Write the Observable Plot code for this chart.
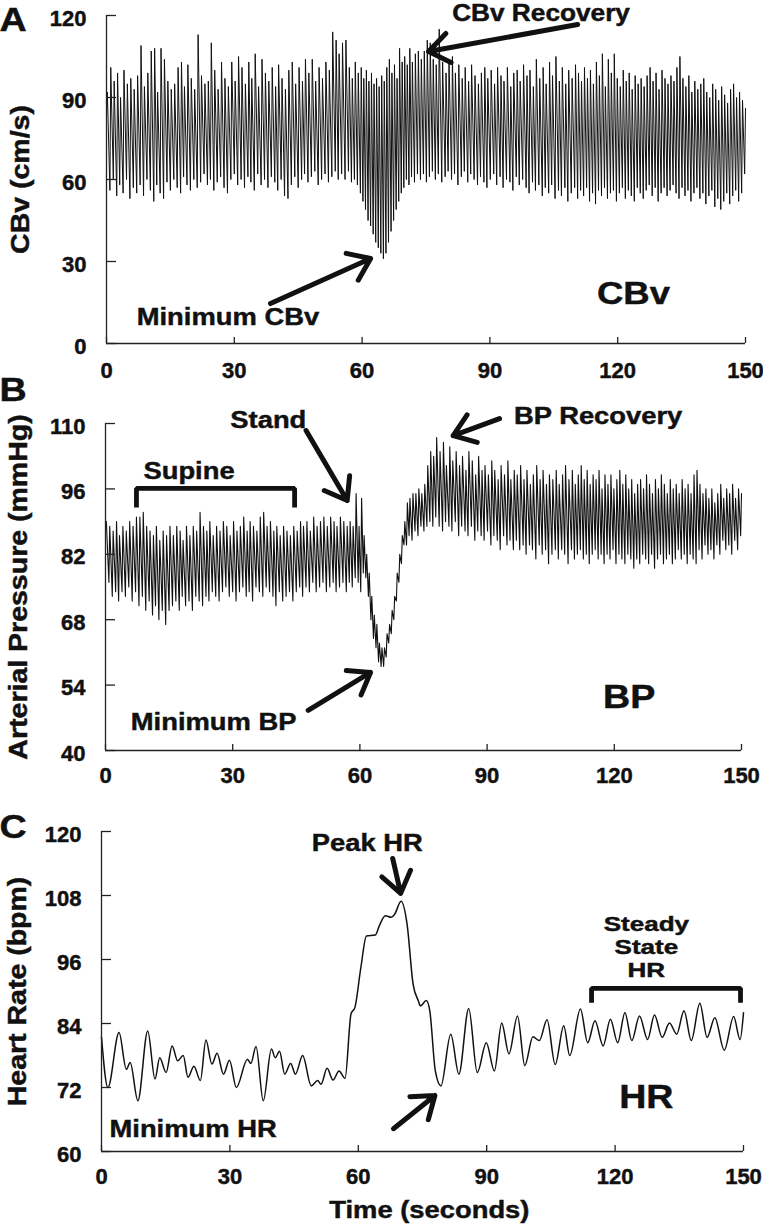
<!DOCTYPE html>
<html>
<head>
<meta charset="utf-8">
<script src="https://cdn.jsdelivr.net/npm/d3@7"></script>
<script src="https://cdn.jsdelivr.net/npm/@observablehq/plot@0.6"></script>
<style>
  body { margin: 0; background: #fff; }
  #root { position: relative; width: 763px; height: 1224px; overflow: hidden; }
  #root > div { position: absolute; left: 0; }
  #root svg { display: block; }
  #root text { stroke: #111; stroke-width: 0.45px; }
</style>
</head>
<body>
<div id="root"></div>
<script>
// ---------------- DATA ----------------
// time of each heartbeat (s)
const beatTime = [
  0.0,0.8,1.6,2.4,3.1,3.9,4.7,5.5,6.3,7.1,
  7.9,8.7,9.5,10.3,11.1,11.8,12.6,13.4,14.2,15.0,
  15.8,16.6,17.4,18.1,18.9,19.7,20.5,21.3,22.1,22.9,
  23.7,24.4,25.2,26.0,26.8,27.6,28.4,29.2,30.0,30.8,
  31.6,32.4,33.2,33.9,34.7,35.5,36.3,37.1,37.9,38.7,
  39.5,40.2,41.0,41.8,42.6,43.4,44.2,45.0,45.8,46.5,
  47.3,48.1,48.9,49.7,50.5,51.3,52.1,52.9,53.7,54.4,
  55.2,56.0,56.8,57.5,58.2,58.9,59.6,60.2,60.8,61.4,
  62.0,62.6,63.2,63.8,64.4,65.0,65.6,66.2,66.8,67.4,
  68.0,68.6,69.2,69.8,70.4,71.0,71.6,72.3,73.0,73.7,
  74.4,75.1,75.8,76.5,77.2,77.9,78.7,79.5,80.2,81.0,
  81.7,82.5,83.3,84.0,84.8,85.5,86.3,87.1,87.8,88.6,
  89.3,90.1,90.9,91.6,92.4,93.1,93.9,94.7,95.4,96.2,
  96.9,97.7,98.5,99.2,100.0,100.7,101.5,102.3,103.0,103.8,
  104.5,105.3,106.1,106.8,107.6,108.3,109.1,109.9,110.6,111.3,
  112.0,112.7,113.4,114.1,114.8,115.5,116.2,116.9,117.6,118.3,
  119.0,119.7,120.4,121.1,121.8,122.5,123.2,123.9,124.6,125.3,
  126.0,126.7,127.4,128.1,128.8,129.5,130.2,130.9,131.6,132.3,
  133.0,133.7,134.4,135.1,135.8,136.5,137.2,137.9,138.6,139.3,
  140.0,140.7,141.4,142.1,142.8,143.5,144.2,144.9,145.6,146.3,
  147.0,147.7,148.4,149.1,149.8
];
// cerebral blood velocity, cm/s: beat peaks and troughs
const cbvSystolic = [
  92,101,96,99,90,100,95,97,93,98,
  109,94,99,107,108,92,108,104,96,93,
  95,101,103,94,102,97,93,113,98,95,
  96,110,100,93,103,97,94,103,96,105,
  101,95,103,97,106,94,104,99,96,101,
  94,102,97,93,100,103,95,101,96,104,
  99,104,96,101,97,103,100,114,111,106,
  110,111,101,97,103,99,101,97,100,96,
  99,95,97,94,98,96,101,104,99,102,
  97,108,103,105,102,108,103,106,107,104,
  107,111,110,104,102,115,103,99,104,105,
  99,102,97,101,96,102,98,95,99,101,
  97,100,95,101,98,96,101,94,99,100,
  96,102,98,100,94,104,97,101,95,103,
  98,105,96,101,95,100,97,102,99,96,
  101,97,100,95,103,98,106,94,104,99,
  106,97,94,100,96,99,93,98,95,97,
  94,98,101,96,99,93,100,97,95,98,
  96,101,105,97,94,98,92,96,93,95,
  97,92,90,95,93,89,94,91,88,93,
  95,90,92,89,86
];
const cbvDiastolic = [
  83,56,60,54,58,55,60,53,57,55,
  58,54,60,56,52,58,55,53,59,56,
  60,57,55,61,58,56,60,57,59,62,
  58,60,56,59,61,57,55,60,62,58,
  60,57,61,59,56,62,58,60,57,61,
  59,56,60,54,53,58,61,57,60,62,
  59,61,63,58,60,62,59,61,63,60,
  62,60,63,59,60,58,55,52,49,45,
  43,40,37,35,33,31,33,37,41,45,
  49,52,55,57,60,58,61,59,62,60,
  62,59,61,63,60,62,59,61,63,60,
  62,58,61,63,59,62,60,58,61,59,
  57,60,62,58,61,57,60,59,56,61,
  58,60,57,55,59,56,58,54,57,55,
  58,53,56,54,57,52,55,57,53,56,
  54,57,52,55,51,56,54,57,53,55,
  56,52,55,57,53,56,54,52,57,55,
  53,56,58,54,57,52,55,57,54,56,
  58,55,53,57,54,56,52,55,57,53,
  55,51,54,56,50,53,49,52,55,51,
  54,56,52,55,62
];
// arterial pressure, mmHg: beat peaks and troughs
const bpSystolic = [
  89,88,87,89,86,88,87,89,88,90,
  90,91,88,87,86,88,85,87,86,88,
  86,88,87,85,88,86,88,87,91,88,
  87,89,86,88,87,89,88,86,89,87,
  88,90,87,89,88,87,90,91,88,89,
  87,88,86,88,87,86,88,87,89,88,
  89,87,90,88,89,90,88,90,89,88,
  90,89,88,89,88,95,88,94,86,82,
  78,73,69,67,63,62,62,65,67,70,
  73,78,82,86,89,93,94,95,95,96,
  95,97,101,104,103,107,104,106,101,105,
  102,104,101,103,100,104,102,99,103,100,
  101,99,102,100,98,101,99,102,98,100,
  99,101,98,100,97,99,101,98,100,97,
  99,98,100,97,99,101,98,100,97,99,
  101,98,100,97,99,98,100,96,99,97,
  99,96,98,100,97,99,96,98,95,97,
  98,96,99,97,95,98,96,99,97,95,
  98,96,97,95,98,96,97,95,99,100,
  97,95,96,94,96,93,95,97,94,96,
  95,97,94,96,95
];
const bpDiastolic = [
  89,76,73,74,72,74,73,75,72,74,
  71,73,70,72,69,71,68,70,67,70,
  71,72,70,73,71,72,70,73,72,71,
  73,72,74,73,72,74,75,73,74,72,
  74,75,73,74,72,75,74,73,75,74,
  73,71,74,72,73,74,72,74,75,73,
  75,74,76,74,75,76,74,75,76,74,
  75,76,74,76,75,77,76,74,78,77,
  73,68,64,62,59,58,58,60,63,65,
  68,72,76,80,84,84,86,85,87,86,
  88,87,88,89,88,90,88,87,89,88,
  87,89,86,88,87,86,88,85,87,86,
  85,87,84,86,85,83,86,84,85,83,
  85,83,84,82,84,83,81,84,82,83,
  80,82,83,81,83,82,80,83,81,82,
  83,81,82,80,82,83,81,82,80,82,
  81,83,80,82,81,80,82,81,79,81,
  80,82,81,80,82,79,81,82,80,81,
  82,80,81,83,81,82,80,82,81,80,
  83,81,84,82,83,81,84,82,85,83,
  84,82,85,83,86
];
// heart rate, bpm: turning points of the smooth trace
const hrTime = [
  0,1.5,4.1,5.8,6.7,8.5,10.8,12.5,13.6,15.1,
  16.5,17.8,19.1,20.2,21.6,23.1,24.4,25.8,27.0,28.5,
  29.9,31.5,34.1,34.9,36.1,37.8,39.7,40.6,41.6,42.8,
  44.2,45.3,47.0,49.0,50.5,51.3,52.7,54.1,55.5,56.9,
  58.3,59.2,60.6,61.9,64.0,64.9,66.3,67.7,68.5,70.0,
  71.4,72.8,74.0,74.5,75.9,76.7,78.0,79.3,81.6,83.5,
  85.8,87.8,89.9,91.8,93.5,95.2,97.2,98.9,100.8,102.3,
  104.1,106.0,108.0,109.4,111.9,113.6,115.3,117.2,118.9,120.6,
  122.3,123.9,125.7,127.6,129.2,131.0,132.7,134.4,136.1,137.8,
  139.8,141.5,143.3,145.5,147.7,149.2,150.0
];
const hrValue = [
  81.4,72,82.3,75.4,76.7,69.5,82.6,73.6,77.6,74.8,
  79.8,77,78,73.9,76,73.3,80.9,76.4,78.4,74.5,
  77.1,72,77.3,76.5,79.7,69.5,79.2,77.6,78.8,74.5,
  76.5,74.5,78,72.3,73.3,72.6,75.6,73.4,75.1,73.7,
  85.8,87,94.5,100.4,100.6,102.3,104.2,103.9,104.5,106.9,
  102.6,91.4,88.3,87.3,88.3,86.4,75.1,72.3,82,74.5,
  86.8,74.8,80.4,75.1,84.1,78.3,85.4,76.1,81.5,80.8,
  84.7,76.3,83.6,78,86.7,80.4,84.5,79.8,84.8,80.4,
  86,80.8,85.4,81,85.6,81.4,84.1,82,86.4,80.8,
  87.8,81.4,85.1,79,85.3,81,86
];
// tick labels
const timeTicks = [0, 30, 60, 90, 120, 150];
const cbvTicks = [0, 30, 60, 90, 120];
const bpTicks = [40, 54, 68, 82, 96, 110];
const hrTicks = [60, 72, 84, 96, 108, 120];

// ---------------- annotation layout (data space) ----------------
const notesA = [
  {text: "CBv Recovery", t: 102.0, v: 118.0, size: 23},
  {text: "Minimum CBv", t: 28.5, v: 6.6, size: 24},
  {text: "CBv", t: 123.7, v: 14.6, size: 32}
];
const arrowsA = [
  {t1: 110.6, v1: 116.7, t2: 75.6, v2: 106.8, inset: 0},
  {t1: 38.5, v1: 14.6, t2: 62.0, v2: 31.1, inset: 0}
];
const notesB = [
  {text: "Stand", t: 38.4, v: 109.1, size: 24},
  {text: "BP Recovery", t: 116.2, v: 110.0, size: 24},
  {text: "Supine", t: 19.7, v: 98.2, size: 24},
  {text: "Minimum BP", t: 25.5, v: 44.3, size: 24},
  {text: "BP", t: 123.5, v: 49.2, size: 33}
];
const arrowsB = [
  {t1: 47.3, v1: 108.5, t2: 57.0, v2: 93.5, inset: 0},
  {t1: 98.6, v1: 112.95, t2: 82.0, v2: 107.4, inset: 25.6},
  {t1: 47.8, v1: 48.6, t2: 62.5, v2: 56.7, inset: 0}
];
const supineBracket = {start: 7.3, end: 44.6, top: 96.1, foot: 92.0};
const notesC = [
  {text: "Peak HR", t: 62.1, v: 116.4, size: 24},
  {text: "Minimum HR", t: 21.4, v: 62.8, size: 24},
  {text: "HR", t: 127.3, v: 68.1, size: 33},
  {text: "Time (seconds)", t: 76.6, v: 47.6, size: 24}
];
const steadyNote = {text: "Steady\nState\nHR", t: 127.3, v: 104.4, size: 20};
const arrowsC = [
  {t1: 66.0, v1: 122.1, t2: 69.9, v2: 108.4, inset: 39.1},
  {t1: 64.2, v1: 61.7, t2: 77.9, v2: 70.5, inset: 22}
];
const steadyBracket = {start: 114.5, end: 149.3, top: 90.6, foot: 87.9};

// ---------------- build tables ----------------
const SYSTOLIC_DELAY = 0.2;
function pulseWave(dia, sys) {
  return beatTime.flatMap((t, i) => [{t, v: dia[i]}, {t: t + SYSTOLIC_DELAY, v: sys[i]}]);
}
function bracketPts(b) {
  return [{t: b.start, v: b.foot}, {t: b.start, v: b.top}, {t: b.end, v: b.top}, {t: b.end, v: b.foot}];
}
const cbvWave = pulseWave(cbvDiastolic, cbvSystolic);
const bpWave = pulseWave(bpDiastolic, bpSystolic);
const hrTrace = hrTime.map((t, i) => ({t, v: hrValue[i]}));

const W = 763;
const FONT = "'Liberation Sans', Arial, Helvetica, sans-serif";
const INK = "#111";

function panel(cfg) {
  const {top, height, mt, mb, ml, mr, yDomain, yTicks, letter, letterDy, ylabel, ylabelX,
         lineMarks, notes, arrows, brackets, xPad, extra = []} = cfg;
  const frameW = W - ml - mr, frameH = height - mt - mb;
  const marks = [
    ...lineMarks,
    Plot.ruleX([0], {stroke: "#222", strokeWidth: 1.3}),
    Plot.ruleY([yDomain[0]], {stroke: "#222", strokeWidth: 1.3}),
    Plot.tickY(yTicks, {y: d => d, insetRight: frameW - 10, stroke: "#222", strokeWidth: 1.3}),
    Plot.tickX(timeTicks, {x: d => d, insetTop: frameH - 6, stroke: "#222", strokeWidth: 1.3}),
    Plot.axisX({ticks: timeTicks, tickSize: 0, tickPadding: xPad, label: null, fill: INK}),
    Plot.axisY({ticks: yTicks, tickSize: 0, tickPadding: 20, label: null, dy: 3, fill: INK}),
    ...brackets.map(b => Plot.line(bracketPts(b), {x: "t", y: "v", stroke: INK, strokeWidth: 4.8, strokeLinejoin: "miter", strokeLinecap: "butt"})),
    ...arrows.map(a => Plot.arrow([a], {x1: "t1", y1: "v1", x2: "t2", y2: "v2", stroke: INK, strokeWidth: 5, headLength: 7.5, headAngle: 72, insetStart: a.inset, strokeLinecap: "round", strokeLinejoin: "round"})),
    Plot.text(notes, {x: "t", y: "v", text: "text", fontSize: "size", fontWeight: "bold", textAnchor: "middle", lineAnchor: "bottom", fill: INK}),
    ...extra,
    Plot.text([ylabel], {text: d => d, frameAnchor: "left", dx: ylabelX - ml, rotate: -90, textAnchor: "middle", lineAnchor: "bottom", fontSize: 25, fontWeight: "bold", fill: INK}),
    Plot.text([letter], {text: d => d, frameAnchor: "top-left", dx: 12.5 - ml, dy: letterDy, textAnchor: "middle", lineAnchor: "bottom", fontSize: 33, fontWeight: "bold", fill: INK, ariaLabel: "panel letter"})
  ];
  const svg = Plot.plot({
    width: W, height,
    marginTop: mt, marginBottom: mb, marginLeft: ml, marginRight: mr,
    x: {domain: [0, 150]},
    y: {domain: yDomain},
    style: {background: "transparent", fontFamily: FONT, fontSize: "22px", fontWeight: "bold", color: INK, overflow: "visible"},
    marks
  });
  const holder = document.createElement("div");
  holder.style.top = top + "px";
  holder.appendChild(svg);
  document.getElementById("root").appendChild(holder);
  // widen the annotation lettering like the original artwork
  svg.querySelectorAll("text").forEach(t => {
    const g = t.closest("g[aria-label]");
    const lab = g ? g.getAttribute("aria-label") : "";
    if (/tick label|panel letter/.test(lab)) return;
    const spans = t.querySelectorAll("tspan");
    const parts = spans.length ? Array.from(spans) : [t];
    const k = spans.length ? 1.3 : 1.14;
    parts.forEach(p => {
      const w = p.getComputedTextLength();
      if (w > 0) {
        p.setAttribute("textLength", (w * k).toFixed(1));
        p.setAttribute("lengthAdjust", "spacingAndGlyphs");
      }
    });
  });
}

panel({
  top: 0, height: 385, mt: 15, mb: 42, ml: 106, mr: 18,
  yDomain: [0, 120], yTicks: cbvTicks, letter: "A", letterDy: 15,
  ylabel: "CBv (cm/s)", ylabelX: 28, xPad: 19,
  lineMarks: [Plot.line(cbvWave, {x: "t", y: "v", stroke: INK, strokeWidth: 1.0})],
  notes: notesA, arrows: arrowsA, brackets: []
});
panel({
  top: 370, height: 420, mt: 53, mb: 40, ml: 105, mr: 22,
  yDomain: [40, 110], yTicks: bpTicks, letter: "B", letterDy: -23,
  ylabel: "Arterial Pressure (mmHg)", ylabelX: 26, xPad: 17,
  lineMarks: [Plot.line(bpWave, {x: "t", y: "v", stroke: INK, strokeWidth: 1.1})],
  notes: notesB, arrows: arrowsB, brackets: [supineBracket]
});
panel({
  top: 790, height: 434, mt: 41, mb: 73, ml: 101, mr: 20,
  yDomain: [60, 120], yTicks: hrTicks, letter: "C", letterDy: 6,
  ylabel: "Heart Rate (bpm)", ylabelX: 25, xPad: 17,
  lineMarks: [Plot.line(hrTrace, {x: "t", y: "v", stroke: INK, strokeWidth: 1.5, curve: "monotone-x"})],
  notes: notesC, arrows: arrowsC, brackets: [steadyBracket],
  extra: [Plot.text([steadyNote], {x: "t", y: "v", text: "text", fontSize: "size", fontWeight: "bold", textAnchor: "middle", lineAnchor: "top", lineHeight: 1.15, fill: INK})]
});
</script>
</body>
</html>
